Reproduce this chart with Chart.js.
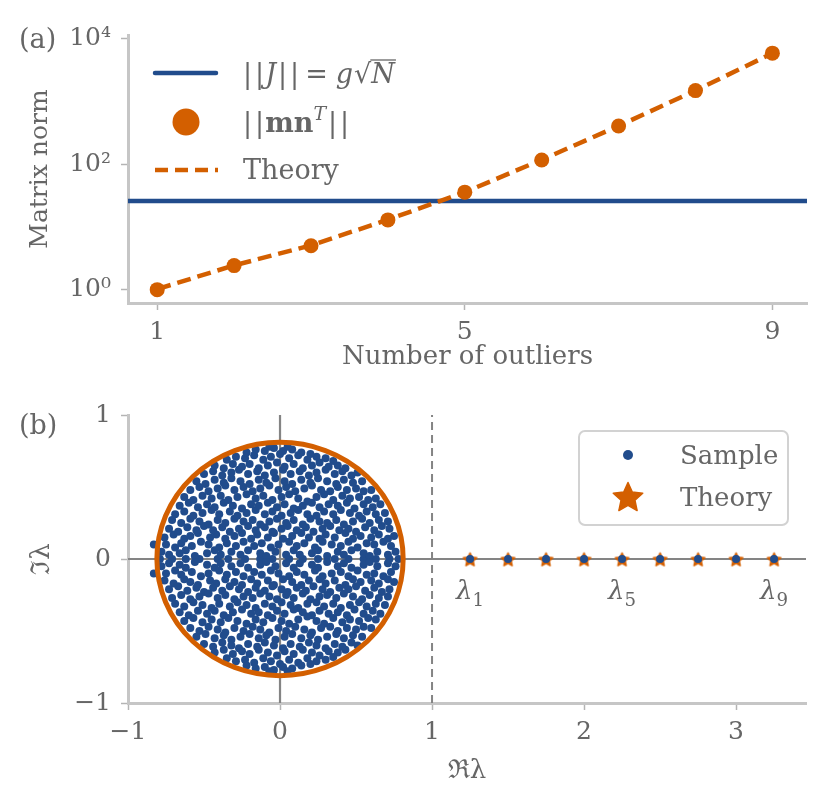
<!DOCTYPE html>
<html>
<head>
<meta charset="utf-8">
<script src="https://cdn.jsdelivr.net/npm/chart.js@4.4.1/dist/chart.umd.min.js"></script>
<style>
  html, body { margin: 0; padding: 0; background: #fff; }
  #wrapA { position: absolute; left: 0; top: 0; width: 831px; height: 390px; }
  #wrapB { position: absolute; left: 0; top: 390px; width: 831px; height: 417px; }
</style>
</head>
<body>
<div id="wrapA"><canvas id="normChart"></canvas></div>
<div id="wrapB"><canvas id="eigChart"></canvas></div>
<script>
// ---- panel (a): matrix norm vs number of outliers
const outlierCounts = [1, 2, 3, 4, 5, 6, 7, 8, 9];
const normSample = [0.98, 2.38, 4.94, 12.8, 35.5, 116, 405, 1495, 5930];
const normTheory = [1.0, 2.4, 5.0, 12.9, 35.5, 117, 407, 1500, 5900];
const normBulk = 25.6;              // ||J|| = g sqrt(N)
const countTicks = [1, 5, 9];
const normTicks = [1, 100, 10000];
const normTickLabels = ['10⁰', '10²', '10⁴'];
const countMin = 0.62, countMax = 9.45;
const normMin = 0.645, normMax = 11570;

// ---- panel (b): eigenvalues in the complex plane
const outlierTheoryRe = [1.25, 1.5, 1.75, 2.0, 2.25, 2.5, 2.75, 3.0, 3.25];
const outlierSampleRe = [1.25, 1.5, 1.75, 2.0, 2.25, 2.5, 2.75, 3.0, 3.25];
const labelledOutliers = [1, 5, 9];
const bulkRadius = 0.81;
const reTicks = [-1, 0, 1, 2, 3];
const imTicks = [-1, 0, 1];
const reMin = -1, reMax = 3.46;
const imMin = -1, imMax = 1;
const stabilityLine = 1;

// real eigenvalues of the bulk
const realEigs = [-0.79, -0.71, -0.62, -0.53, -0.41, -0.34, -0.23, -0.13, -0.05,
  0.06, 0.15, 0.25, 0.36, 0.45, 0.55, 0.63, 0.72, 0.78];

// complex bulk eigenvalues, upper half plane (conjugates are added below)
const complexEigs = [
  [-0.78,0.05],[-0.73,0.03],[-0.66,0.04],[-0.62,0.06],[-0.56,0.02],[-0.48,0.04],[-0.43,0.06],[-0.39,0.03],
  [-0.32,0.05],[-0.26,0.03],[-0.21,0.06],[-0.13,0.04],[-0.09,0.02],[-0.03,0.05],[0.04,0.03],[0.09,0.06],
  [0.13,0.03],[0.21,0.04],[0.25,0.06],[0.31,0.02],[0.38,0.05],[0.42,0.03],[0.47,0.06],[0.55,0.04],
  [0.59,0.02],[0.64,0.05],[0.71,0.03],[0.76,0.05],[-0.83,0.10],
  [-0.75,0.10],[-0.69,0.08],[-0.65,0.11],[-0.58,0.09],[-0.52,0.12],[-0.47,0.10],[-0.40,0.08],[-0.35,0.11],
  [-0.29,0.09],[-0.24,0.12],[-0.17,0.09],[-0.12,0.11],[-0.06,0.08],[-0.01,0.10],[0.06,0.12],[0.11,0.09],
  [0.16,0.11],[0.23,0.08],[0.28,0.12],[0.34,0.10],[0.40,0.09],[0.45,0.12],[0.51,0.08],[0.57,0.11],
  [0.62,0.10],[0.68,0.12],[0.73,0.09],
  [-0.76,0.15],[-0.70,0.17],[-0.63,0.14],[-0.59,0.16],[-0.54,0.18],[-0.46,0.15],[-0.42,0.17],[-0.36,0.14],
  [-0.30,0.16],[-0.25,0.18],[-0.19,0.14],[-0.15,0.17],[-0.08,0.15],[-0.04,0.18],[0.02,0.14],[0.08,0.16],
  [0.14,0.18],[0.19,0.15],[0.26,0.14],[0.30,0.17],[0.36,0.15],[0.43,0.18],[0.48,0.14],[0.53,0.16],
  [0.60,0.15],[0.65,0.17],[0.71,0.14],[0.75,0.16],
  [-0.73,0.21],[-0.67,0.19],[-0.61,0.22],[-0.55,0.20],[-0.50,0.23],[-0.44,0.20],[-0.38,0.22],[-0.33,0.19],
  [-0.27,0.21],[-0.21,0.23],[-0.16,0.20],[-0.10,0.22],[-0.05,0.19],[0.01,0.21],[0.05,0.23],[0.11,0.20],
  [0.17,0.22],[0.22,0.19],[0.28,0.21],[0.33,0.23],[0.39,0.20],[0.45,0.21],[0.50,0.19],[0.56,0.22],
  [0.62,0.20],[0.67,0.23],[0.72,0.21],
  [-0.71,0.27],[-0.65,0.25],[-0.59,0.28],[-0.53,0.26],[-0.47,0.24],[-0.41,0.27],[-0.36,0.25],[-0.30,0.28],
  [-0.24,0.26],[-0.18,0.27],[-0.13,0.24],[-0.07,0.26],[-0.02,0.28],[0.04,0.25],[0.09,0.27],[0.15,0.24],
  [0.20,0.28],[0.26,0.26],[0.31,0.25],[0.37,0.27],[0.42,0.24],[0.48,0.26],[0.54,0.28],[0.59,0.25],
  [0.65,0.27],[0.71,0.26],
  [-0.69,0.31],[-0.63,0.33],[-0.57,0.30],[-0.51,0.32],[-0.45,0.34],[-0.40,0.31],[-0.33,0.33],[-0.28,0.30],
  [-0.22,0.32],[-0.16,0.34],[-0.10,0.31],[-0.05,0.33],[0.01,0.30],[0.07,0.32],[0.12,0.34],[0.18,0.31],
  [0.24,0.30],[0.29,0.33],[0.35,0.31],[0.40,0.34],[0.46,0.32],[0.52,0.30],[0.57,0.33],[0.63,0.31],
  [0.69,0.32],
  [-0.66,0.37],[-0.60,0.39],[-0.54,0.36],[-0.48,0.38],[-0.43,0.36],[-0.37,0.39],[-0.31,0.37],[-0.25,0.35],
  [-0.19,0.38],[-0.14,0.37],[-0.08,0.39],[-0.02,0.36],[0.03,0.38],[0.09,0.35],[0.15,0.37],[0.21,0.39],
  [0.26,0.36],[0.32,0.38],[0.38,0.37],[0.44,0.39],[0.49,0.35],[0.55,0.38],[0.61,0.36],[0.66,0.38],
  [-0.63,0.43],[-0.57,0.41],[-0.51,0.44],[-0.45,0.42],[-0.39,0.44],[-0.34,0.41],[-0.28,0.43],[-0.22,0.45],
  [-0.16,0.42],[-0.11,0.44],[-0.05,0.41],[0.01,0.43],[0.06,0.45],[0.12,0.42],[0.18,0.40],[0.24,0.43],
  [0.29,0.45],[0.35,0.41],[0.41,0.44],[0.46,0.42],[0.52,0.43],[0.58,0.41],[0.63,0.42],
  [-0.59,0.48],[-0.53,0.50],[-0.47,0.47],[-0.41,0.49],[-0.36,0.51],[-0.30,0.48],[-0.24,0.50],[-0.18,0.47],
  [-0.13,0.49],[-0.07,0.51],[-0.01,0.48],[0.04,0.50],[0.10,0.47],[0.16,0.49],[0.21,0.51],[0.27,0.48],
  [0.33,0.47],[0.38,0.50],[0.44,0.48],[0.50,0.49],[0.55,0.47],[0.60,0.48],
  [-0.55,0.54],[-0.49,0.52],[-0.43,0.55],[-0.37,0.53],[-0.32,0.56],[-0.26,0.54],[-0.20,0.52],[-0.14,0.55],
  [-0.09,0.53],[-0.03,0.56],[0.03,0.54],[0.08,0.52],[0.14,0.55],[0.20,0.53],[0.25,0.56],[0.31,0.54],
  [0.37,0.52],[0.42,0.55],[0.48,0.53],[0.54,0.54],
  [-0.50,0.59],[-0.44,0.61],[-0.38,0.58],[-0.32,0.60],[-0.27,0.62],[-0.21,0.59],[-0.15,0.61],[-0.10,0.58],
  [-0.04,0.60],[0.02,0.62],[0.07,0.59],[0.13,0.61],[0.19,0.58],[0.24,0.60],[0.30,0.62],[0.36,0.59],
  [0.41,0.61],[0.47,0.58],[0.51,0.60],
  [-0.43,0.65],[-0.37,0.63],[-0.31,0.66],[-0.25,0.64],[-0.20,0.66],[-0.14,0.63],[-0.08,0.65],[-0.02,0.67],
  [0.03,0.64],[0.09,0.66],[0.15,0.63],[0.21,0.65],[0.26,0.67],[0.32,0.64],[0.38,0.65],[0.43,0.63],
  [-0.35,0.69],[-0.29,0.71],[-0.23,0.70],[-0.17,0.72],[-0.11,0.69],[-0.06,0.71],[0.00,0.73],[0.06,0.70],
  [0.12,0.72],[0.18,0.69],[0.24,0.71],[0.30,0.70],[0.35,0.68],
  [-0.22,0.74],[-0.16,0.76],[-0.10,0.75],[-0.04,0.77],[0.02,0.75],[0.08,0.76],[0.14,0.74],[0.20,0.73],
  [-0.07,0.78],[0.05,0.78]
];

const BLUE = '#214c8c';
const ORANGE = '#d35f00';
const TEXT = '#666666';
const SPINE = '#c6c6c6';
const TICK = '#b4b4b4';
const ZERO = '#848484';
const FONT = '"DejaVu Serif", "Liberation Serif", serif';

// draws a run of text pieces: n = normal, i = italic, b = bold, sup / sub = small raised / lowered,
// gap = extra horizontal space in px
function rich(ctx, x, y, parts, size) {
  ctx.textBaseline = 'alphabetic';
  ctx.textAlign = 'left';
  for (const [t, s] of parts) {
    if (s === 'gap') { x += t; continue; }
    let fs = size, dy = 0, st = '';
    if (s === 'i') st = 'italic ';
    if (s === 'b') st = 'bold ';
    if (s === 'sup') { fs = size * 0.7; dy = -size * 0.45; st = 'italic '; }
    if (s === 'sub') { fs = size * 0.7; dy = size * 0.25; }
    ctx.font = st + fs + 'px ' + FONT;
    ctx.fillText(t, x, y + dy);
    x += ctx.measureText(t).width;
  }
  return x;
}

function richWidth(ctx, parts, size) {
  let w = 0;
  for (const [t, s] of parts) {
    if (s === 'gap') { w += t; continue; }
    let fs = size, st = '';
    if (s === 'i') st = 'italic ';
    if (s === 'b') st = 'bold ';
    if (s === 'sup' || s === 'sub') fs = size * 0.7;
    if (s === 'sup') st = 'italic ';
    ctx.font = st + fs + 'px ' + FONT;
    w += ctx.measureText(t).width;
  }
  return w;
}

function starImage(d, color) {
  const c = document.createElement('canvas');
  c.width = d; c.height = d;
  const g = c.getContext('2d');
  const R = d / 2 - 1.5, r = R * 0.47;
  g.beginPath();
  for (let k = 0; k < 10; k++) {
    const a = -Math.PI / 2 + k * Math.PI / 5;
    const rr = k % 2 ? r : R;
    g.lineTo(d / 2 + rr * Math.cos(a), d / 2 + 1 + rr * Math.sin(a));
  }
  g.closePath();
  g.fillStyle = color; g.fill();
  g.lineJoin = 'round'; g.lineWidth = 1.5; g.strokeStyle = color; g.stroke();
  return c;
}
const starSmall = starImage(17, ORANGE);
const starBig = starImage(34, ORANGE);

function axisStyle() {
  return {
    grid: { display: true, drawOnChartArea: false, drawTicks: true, tickLength: 7, tickWidth: 1.5, tickColor: TICK },
    border: { display: true, color: SPINE, width: 3 }
  };
}

// ---------------- panel (a)
const annotA = {
  id: 'annotA',
  afterDraw(chart) {
    const ctx = chart.ctx;
    ctx.save();
    ctx.fillStyle = TEXT;
    rich(ctx, 19, 48, [['(a)', 'n']], 27);

    // legend
    ctx.lineCap = 'round';
    ctx.strokeStyle = BLUE; ctx.lineWidth = 4.5;
    ctx.beginPath(); ctx.moveTo(155, 73); ctx.lineTo(216, 73); ctx.stroke();
    ctx.fillStyle = TEXT;
    let x = rich(ctx, 243, 83, [['|', 'n'], [3, 'gap'], ['|', 'n'], [1, 'gap'], ['J', 'i'], [2, 'gap'],
      ['|', 'n'], [3, 'gap'], ['|', 'n'], [6, 'gap'], ['=', 'n'], [8, 'gap'], ['g', 'i'], [1, 'gap'], ['√', 'n']], 27);
    const x0 = x;
    x = rich(ctx, x, 83, [['N', 'i']], 27);
    ctx.strokeStyle = TEXT; ctx.lineWidth = 1.3; ctx.lineCap = 'butt';
    ctx.beginPath(); ctx.moveTo(x0 - 1, 60); ctx.lineTo(x + 1, 60); ctx.stroke();

    ctx.fillStyle = ORANGE;
    ctx.beginPath(); ctx.arc(186, 122, 13.5, 0, Math.PI * 2); ctx.fill();
    ctx.fillStyle = TEXT;
    rich(ctx, 243, 132, [['|', 'n'], [3, 'gap'], ['|', 'n'], [1, 'gap'], ['mn', 'b'], ['T', 'sup'], [2, 'gap'],
      ['|', 'n'], [3, 'gap'], ['|', 'n']], 27);

    ctx.strokeStyle = ORANGE; ctx.lineWidth = 4.5; ctx.setLineDash([13, 7]);
    ctx.beginPath(); ctx.moveTo(155, 170); ctx.lineTo(218, 170); ctx.stroke();
    ctx.setLineDash([]);
    rich(ctx, 243, 179, [['Theory', 'n']], 27);
    ctx.restore();
  }
};

new Chart(document.getElementById('normChart'), {
  type: 'scatter',
  data: {
    datasets: [
      {
        label: '||mn^T||',
        data: outlierCounts.map((n, i) => ({ x: n, y: normSample[i] })),
        showLine: false, pointRadius: 7.5, pointBorderWidth: 0,
        backgroundColor: ORANGE, borderColor: ORANGE
      },
      {
        label: 'Theory',
        data: outlierCounts.map((n, i) => ({ x: n, y: normTheory[i] })),
        showLine: true, pointRadius: 0, borderColor: ORANGE, borderWidth: 4.5,
        borderDash: [14, 7]
      },
      {
        label: '||J|| = g sqrt(N)',
        data: [{ x: countMin, y: normBulk }, { x: countMax, y: normBulk }],
        showLine: true, pointRadius: 0, borderColor: BLUE, borderWidth: 4.5
      }
    ]
  },
  options: {
    responsive: true, maintainAspectRatio: false, animation: false, events: [],
    layout: { padding: { left: 0, top: 35, right: 24, bottom: 0 } },
    plugins: { legend: { display: false }, tooltip: { enabled: false } },
    scales: {
      x: Object.assign(axisStyle(), {
        type: 'linear', min: countMin, max: countMax,
        afterBuildTicks: s => { s.ticks = countTicks.map(v => ({ value: v })); },
        afterFit: s => { s.height = 87; },
        ticks: { color: TEXT, font: { family: FONT, size: 25 }, padding: 7 },
        title: { display: true, text: 'Number of outliers', color: TEXT,
          font: { family: FONT, size: 26 }, padding: { top: 0, bottom: 17 } }
      }),
      y: Object.assign(axisStyle(), {
        type: 'logarithmic', min: normMin, max: normMax,
        afterBuildTicks: s => { s.ticks = normTicks.map(v => ({ value: v })); },
        afterFit: s => { s.width = 128; },
        ticks: { color: TEXT, font: { family: FONT, size: 25 }, padding: 10,
          callback: v => normTickLabels[normTicks.indexOf(v)] },
        title: { display: true, text: 'Matrix norm', color: TEXT,
          font: { family: FONT, size: 25 }, padding: { top: 25, bottom: 0 } }
      })
    }
  },
  plugins: [annotA]
});

// ---------------- panel (b)
const sampleData = [];
realEigs.forEach(x => sampleData.push({ x: x, y: 0 }));
complexEigs.forEach(([x, y]) => { sampleData.push({ x: x, y: y }); sampleData.push({ x: x, y: -y }); });
outlierSampleRe.forEach(x => sampleData.push({ x: x, y: 0 }));

const annotB = {
  id: 'annotB',
  afterDatasetsDraw(chart) {
    const ctx = chart.ctx, xs = chart.scales.x, ys = chart.scales.y;
    const cx = xs.getPixelForValue(0), cy = ys.getPixelForValue(0);
    const rx = xs.getPixelForValue(bulkRadius) - cx;
    const ry = cy - ys.getPixelForValue(bulkRadius);
    ctx.save();
    ctx.strokeStyle = ORANGE; ctx.lineWidth = 5;
    ctx.beginPath(); ctx.ellipse(cx, cy, rx, ry, 0, 0, Math.PI * 2); ctx.stroke();

    // outlier labels
    ctx.fillStyle = TEXT;
    labelledOutliers.forEach(k => {
      const parts = [['λ', 'i'], [String(k), 'sub']];
      const w = richWidth(ctx, parts, 26);
      rich(ctx, xs.getPixelForValue(outlierTheoryRe[k - 1]) - w / 2, cy + 40, parts, 26);
    });
    ctx.restore();
  },
  afterDraw(chart) {
    const ctx = chart.ctx;
    ctx.save();
    ctx.fillStyle = TEXT;
    rich(ctx, 19, 44, [['(b)', 'n']], 27);

    // legend box
    ctx.fillStyle = 'rgba(255,255,255,0.85)';
    ctx.strokeStyle = '#d2d2d2'; ctx.lineWidth = 2;
    ctx.beginPath(); ctx.roundRect(579, 41, 209, 94, 6); ctx.fill(); ctx.stroke();
    ctx.fillStyle = BLUE;
    ctx.beginPath(); ctx.arc(628, 65, 5, 0, Math.PI * 2); ctx.fill();
    ctx.drawImage(starBig, 628 - 17, 107 - 17);
    ctx.fillStyle = TEXT;
    rich(ctx, 680, 74, [['Sample', 'n']], 26);
    rich(ctx, 680, 116, [['Theory', 'n']], 26);
    ctx.restore();
  }
};

new Chart(document.getElementById('eigChart'), {
  type: 'scatter',
  data: {
    datasets: [
      {
        label: 'Sample', data: sampleData, showLine: false,
        pointRadius: 4, pointBorderWidth: 0, backgroundColor: BLUE, borderColor: BLUE
      },
      {
        label: 'Theory', data: outlierTheoryRe.map(x => ({ x: x, y: 0 })), showLine: false,
        pointStyle: starSmall, pointRadius: 8
      },
      {
        label: 'Re = 1', data: [{ x: stabilityLine, y: imMin }, { x: stabilityLine, y: imMax }],
        showLine: true, pointRadius: 0, borderColor: ZERO, borderWidth: 2, borderDash: [8, 5]
      },
      {
        label: 'real axis', data: [{ x: reMin, y: 0 }, { x: reMax, y: 0 }],
        showLine: true, pointRadius: 0, borderColor: ZERO, borderWidth: 2.2
      },
      {
        label: 'imaginary axis', data: [{ x: 0, y: imMin }, { x: 0, y: imMax }],
        showLine: true, pointRadius: 0, borderColor: ZERO, borderWidth: 2.2
      }
    ]
  },
  options: {
    responsive: true, maintainAspectRatio: false, animation: false, events: [],
    layout: { padding: { left: 0, top: 25, right: 25, bottom: 0 } },
    plugins: { legend: { display: false }, tooltip: { enabled: false } },
    scales: {
      x: Object.assign(axisStyle(), {
        type: 'linear', min: reMin, max: reMax,
        afterBuildTicks: s => { s.ticks = reTicks.map(v => ({ value: v })); },
        afterFit: s => { s.height = 104; },
        ticks: { color: TEXT, font: { family: FONT, size: 25 }, padding: 7,
          callback: v => String(v).replace('-', '−') },
        title: { display: true, text: 'ℜλ', color: TEXT,
          font: { family: FONT, size: 26 }, padding: { top: 0, bottom: 20 } }
      }),
      y: Object.assign(axisStyle(), {
        type: 'linear', min: imMin, max: imMax,
        afterBuildTicks: s => { s.ticks = imTicks.map(v => ({ value: v })); },
        afterFit: s => { s.width = 128; },
        ticks: { color: TEXT, font: { family: FONT, size: 25 }, padding: 10,
          callback: v => String(v).replace('-', '−') },
        title: { display: true, text: 'ℑλ', color: TEXT,
          font: { family: FONT, size: 26 }, padding: { top: 27, bottom: 0 } }
      })
    }
  },
  plugins: [annotB]
});
</script>
</body>
</html>
